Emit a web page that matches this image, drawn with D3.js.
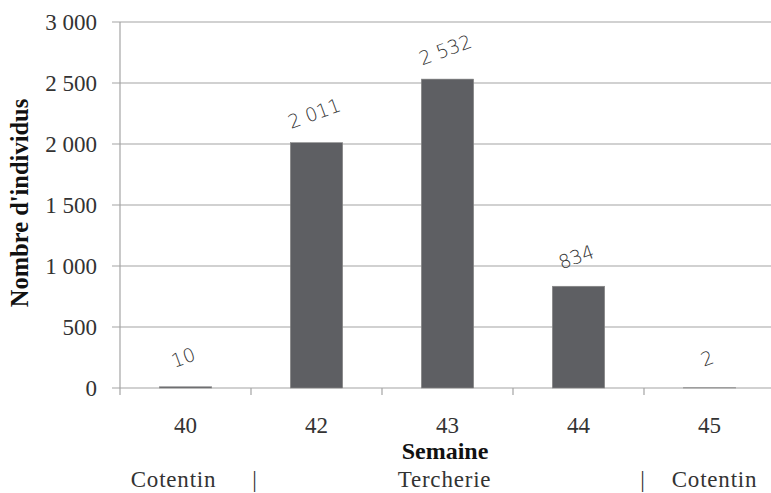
<!DOCTYPE html>
<html><head><meta charset="utf-8">
<script src="https://cdn.jsdelivr.net/npm/d3@7"></script>
<style>body{margin:0;background:#fff}svg{display:block}</style>
</head><body>
<script>
const weeks = ["40","42","43","44","45"];
const counts = [10, 2011, 2532, 834, 2];
const yTicks = [0, 500, 1000, 1500, 2000, 2500, 3000];
const regions = ["Cotentin", "|", "Tercherie", "|", "Cotentin"];

(function () {
const W = 771, H = 493;
const svg = d3.select("body").append("svg").attr("width", W).attr("height", H);
const pL = 120, pT = 22, pB = 388, pR = 775;
const serif = "'Liberation Serif','DejaVu Serif',serif";

const x = d3.scaleBand().domain(weeks).range([pL, pR]).paddingInner(0.6).paddingOuter(0.3);
const xc = d3.scaleBand().domain(weeks).range([pL, pR]);
const y = d3.scaleLinear().domain([0, 3000]).range([pB, pT]);
const mid = w => xc(w) + xc.bandwidth() / 2;

svg.append("g").selectAll("line").data(yTicks).join("line")
  .attr("x1", pL - 8).attr("x2", W).attr("y1", d => y(d)).attr("y2", d => y(d))
  .attr("stroke", "#a4a4a4").attr("stroke-width", 1.2);

svg.append("line").attr("x1", pL).attr("x2", pL).attr("y1", pT).attr("y2", pB + 7)
  .attr("stroke", "#a4a4a4").attr("stroke-width", 1.2);

const bounds = weeks.map(w => xc(w)).concat([pR]);
svg.append("g").selectAll("line").data(bounds.slice(1)).join("line")
  .attr("x1", d => d).attr("x2", d => d).attr("y1", pB).attr("y2", pB + 7)
  .attr("stroke", "#a4a4a4").attr("stroke-width", 1.2);

const fmt = v => d3.format(",")(v).replace(/,/g, " ");
svg.append("g").selectAll("text").data(yTicks).join("text")
  .attr("x", pL - 23).attr("y", d => y(d)).attr("dy", "0.33em")
  .attr("text-anchor", "end").attr("font-family", serif).attr("font-size", 23)
  .attr("fill", "#333").text(fmt);

svg.append("g").selectAll("rect").data(weeks).join("rect")
  .attr("x", w => x(w)).attr("width", x.bandwidth())
  .attr("y", (w, i) => y(counts[i])).attr("height", (w, i) => pB - y(counts[i]))
  .attr("fill", "#5e5f63").attr("stroke", "#8a8a8a").attr("stroke-width", 0.6);

svg.append("g").selectAll("text").data(weeks).join("text")
  .attr("transform", (w, i) => `translate(${mid(w)},${y(counts[i]) - 23}) rotate(-20)`)
  .attr("text-anchor", "middle").attr("font-family", "'DejaVu Sans',sans-serif")
  .attr("font-weight", 200).attr("font-size", 19).attr("fill", "#333")
  .text((w, i) => fmt(counts[i]));

svg.append("g").selectAll("text").data(weeks).join("text")
  .attr("x", mid).attr("y", 433)
  .attr("text-anchor", "middle").attr("font-family", serif).attr("font-size", 23)
  .attr("fill", "#333").text(w => w);

svg.append("text").attr("x", 445).attr("y", 459).attr("text-anchor", "middle")
  .attr("font-family", serif).attr("font-weight", "bold").attr("font-size", 24)
  .attr("fill", "#111").text("Semaine");
svg.append("text").attr("transform", `translate(28,203) rotate(-90)`)
  .attr("text-anchor", "middle").attr("font-family", serif).attr("font-weight", "bold")
  .attr("font-size", 24.5).attr("fill", "#111").text("Nombre d'individus");

const rpos = [mid("40") - 12, xc("42") + 4, mid("43") - 3, xc("45") - 1, mid("45") + 5];
svg.append("g").selectAll("text").data(regions).join("text")
  .attr("x", (d, i) => rpos[i])
  .attr("y", 487).attr("text-anchor", "middle").attr("font-family", serif)
  .attr("font-size", 23).attr("letter-spacing", 0.8).attr("fill", "#333").text(d => d);
})();
</script>
</body></html>
